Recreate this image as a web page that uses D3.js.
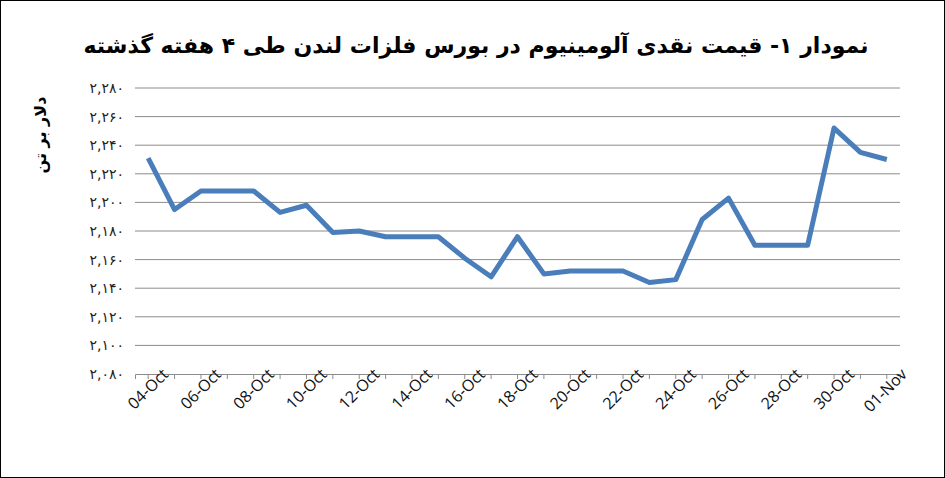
<!DOCTYPE html>
<html><head><meta charset="utf-8">
<script src="https://cdn.jsdelivr.net/npm/d3@7"></script>
<style>body{margin:0;background:#fff}</style>
</head><body>
<script>
const dates = ["04-Oct","05-Oct","06-Oct","07-Oct","08-Oct","09-Oct","10-Oct","11-Oct","12-Oct","13-Oct","14-Oct","15-Oct","16-Oct","17-Oct","18-Oct","19-Oct","20-Oct","21-Oct","22-Oct","23-Oct","24-Oct","25-Oct","26-Oct","27-Oct","28-Oct","29-Oct","30-Oct","31-Oct","01-Nov"];
const prices = [2231,2195,2208,2208,2208,2193,2198,2179,2180,2176,2176,2176,2161,2148,2176,2150,2152,2152,2152,2144,2146,2188,2203,2170,2170,2170,2252,2235,2230];
const yTicks = [2080,2100,2120,2140,2160,2180,2200,2220,2240,2260,2280];
const title = "نمودار ۱- قیمت نقدی آلومینیوم در بورس فلزات لندن طی ۴ هفته گذشته";
const yLabel = "دلار بر تن";

const W = 945, H = 478;
const svg = d3.select("body").append("svg").attr("width", W).attr("height", H)
  .style("font-family", "'DejaVu Sans', sans-serif");
svg.append("rect").attr("x",0.5).attr("y",0.5).attr("width",W-1).attr("height",H-1)
  .attr("fill","#fff").attr("stroke","#000");

const x = d3.scaleBand().domain(dates).range([135, 900]);
const y = d3.scaleLinear().domain([2080, 2280]).range([374, 88]);
const fa = n => d3.format(",")(n).replace(/\d/g, c => "۰۱۲۳۴۵۶۷۸۹"[c]);

// grid
svg.append("g").selectAll("line").data(yTicks.slice(1)).join("line")
  .attr("x1",135).attr("x2",900).attr("y1",d=>y(d)).attr("y2",d=>y(d))
  .attr("stroke","#8c8c8c").attr("stroke-width",1);

svg.append("g").selectAll("text").data(yTicks).join("text")
  .attr("x",124).attr("y",d=>y(d)).attr("dy","0.35em").attr("text-anchor","end")
  .attr("font-size",14).attr("fill","#222").text(fa);

// x axis
const xa = svg.append("g").attr("transform","translate(0,374)")
  .call(d3.axisBottom(x).tickSize(5).tickFormat((d,i)=> i%2===0 ? d : ""));
xa.select(".domain").attr("stroke","#8c8c8c");
xa.selectAll(".tick line").attr("stroke","#8c8c8c");
xa.selectAll("text").attr("font-family","'Open Sans', sans-serif")
  .attr("font-size",16).attr("fill","#111")
  .attr("text-anchor","end").attr("x",14).attr("y",8).attr("dy","0.5em")
  .attr("transform","rotate(-45)");

// line
svg.append("path").datum(prices)
  .attr("fill","none").attr("stroke","#4a7ebb").attr("stroke-width",5)
  .attr("stroke-linejoin","round")
  .attr("d", d3.line().x((d,i)=>x(dates[i])+x.bandwidth()/2).y(d=>y(d)));

svg.append("text").attr("x",476).attr("y",53).attr("text-anchor","middle")
  .attr("font-size",22).attr("font-weight","bold").attr("direction","rtl").text(title);

svg.append("text").attr("transform","translate(46,135) rotate(-90)")
  .attr("text-anchor","middle").attr("font-size",16).attr("font-weight","bold")
  .attr("direction","rtl").text(yLabel);
</script>
</body></html>
